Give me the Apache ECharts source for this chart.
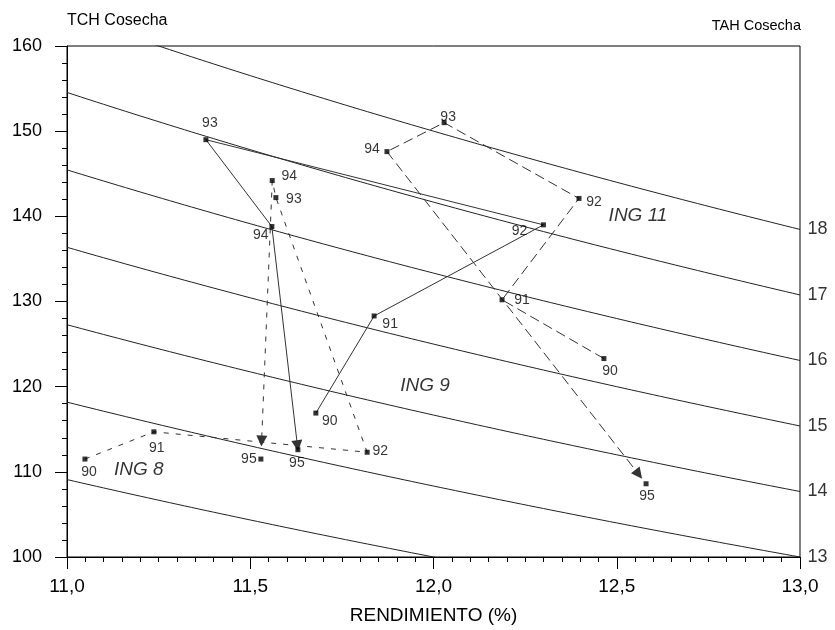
<!DOCTYPE html>
<html><head><meta charset="utf-8">
<script src="https://cdn.jsdelivr.net/npm/echarts@6/dist/echarts.min.js"></script>
<style>html,body{margin:0;padding:0;background:#fff}#c{width:835px;height:630px}</style>
</head><body><div id="c"></div>
<script>
// ---- data ----
const years = ['90', '91', '92', '93', '94', '95'];
const ing8Rend  = [11.049, 11.237, 11.819, 11.570, 11.560, 11.529];
const ing8Tch   = [111.5, 114.7, 112.3, 142.2, 144.2, 111.5];
const ing9Rend  = [11.679, 11.838, 12.300, 11.379, 11.559, 11.630];
const ing9Tch   = [116.9, 128.3, 139.0, 149.0, 138.8, 112.6];
const ing11Rend = [12.465, 12.187, 12.397, 12.029, 11.873, 12.580];
const ing11Tch  = [123.3, 130.2, 142.1, 151.0, 147.6, 108.6];
const tahLevels = [12, 13, 14, 15, 16, 17, 18];      // iso-lines TAH = TCH*R/100
const tahTickLabels = [13, 14, 15, 16, 17, 18];       // right-hand labels
const groupNames = ['ING 8', 'ING 9', 'ING 11'];
const xTickLabels = ['11,0', '11,5', '12,0', '12,5', '13,0'];

// ---- styling (kept apart from data) ----
const groupAnchors = [[11.196, 110.3], [11.977, 120.1], [12.558, 140.1]];
const off8  = [[4, 13], [3, 16], [13, -1], [18, 2], [17, -4], [-12, 0]];
const off9  = [[14, 8], [16, 8], [-24, 6], [4, -17], [-11, 9], [-1, 13]];
const off11 = [[6, 13], [20, 0], [15, 4], [4, -6], [-15, -2], [1, 12]];
const arrowGaps = [18, 4, 12];   // px the arrow stops before the final marker
const FONT = 'Liberation Sans, Arial, Helvetica, sans-serif';
const LINE = '#333';

function pts(xs, ys) { return xs.map((x, i) => [x, ys[i]]); }
const groups = [
  { p: pts(ing8Rend, ing8Tch), offs: off8, dash: [5, 7] },
  { p: pts(ing9Rend, ing9Tch), offs: off9, dash: 'solid' },
  { p: pts(ing11Rend, ing11Tch), offs: off11, dash: [10, 5] }
];

const series = [];
const xSamples = [];
for (let k = 0; k <= 100; k++) xSamples.push(11 + k * 0.02);
tahLevels.forEach(t => {
  series.push({
    type: 'line', silent: true, showSymbol: false, clip: true,
    data: xSamples.map(x => [x, t * 100 / x]),
    lineStyle: { color: '#222', width: 1 }, z: 1
  });
});
series.push({
  type: 'scatter', silent: true, symbolSize: 1, itemStyle: { color: 'rgba(0,0,0,0)' },
  data: tahTickLabels.map(t => ({ value: [13, t * 100 / 13], name: String(t) })),
  label: { show: true, position: 'right', distance: 7, formatter: p => p.name,
           fontSize: 18, fontFamily: FONT, color: '#000' }
});

groups.forEach((g, gi) => {
  const n = g.p.length;
  series.push({
    type: 'line', silent: true, showSymbol: false,
    data: g.p.slice(0, n - 1),
    lineStyle: { color: LINE, width: 1, type: g.dash }, z: 3
  });
  series.push({
    id: 'arrow' + gi,
    type: 'lines', coordinateSystem: 'cartesian2d', silent: true,
    symbol: ['none', 'triangle'], symbolSize: [9, 11],
    data: [{ coords: [g.p[n - 2], g.p[n - 1]] }],
    lineStyle: { color: LINE, width: 1, type: g.dash, opacity: 1, curveness: 0 }, z: 3
  });
  series.push({
    type: 'scatter', silent: true, symbol: 'rect', symbolSize: 5,
    itemStyle: { color: '#000' }, z: 5,
    data: g.p.map((v, i) => ({
      value: v, name: years[i],
      label: { show: true, position: 'inside', offset: g.offs[i], formatter: years[i],
               fontSize: 14, fontFamily: FONT, color: '#000' }
    }))
  });
});

series.push({
  type: 'scatter', silent: true, symbolSize: 1, itemStyle: { color: 'rgba(0,0,0,0)' },
  data: groupNames.map((g, i) => ({ value: groupAnchors[i], name: g })),
  label: { show: true, position: 'inside', formatter: p => p.name, fontSize: 19,
           fontStyle: 'italic', fontFamily: FONT, color: '#000' }, z: 6
});

const chart = echarts.init(document.getElementById('c'), null, { renderer: 'canvas' });
chart.setOption({
  animation: false,
  backgroundColor: '#fff',
  title: [
    { text: 'TCH Cosecha', left: 62, top: 8,
      textStyle: { fontSize: 16, fontWeight: 'normal', color: '#000', fontFamily: FONT } },
    { text: 'TAH Cosecha', right: 29, top: 13,
      textStyle: { fontSize: 14.5, fontWeight: 'normal', color: '#000', fontFamily: FONT } }
  ],
  grid: { left: 67, right: 35, top: 46, bottom: 73, show: true, borderColor: '#000', borderWidth: 1,
          backgroundColor: 'transparent' },
  xAxis: {
    type: 'value', min: 11, max: 13, interval: 0.5,
    name: 'RENDIMIENTO (%)', nameLocation: 'middle', nameGap: 49,
    nameTextStyle: { fontSize: 19, color: '#000', fontFamily: FONT },
    axisLine: { lineStyle: { color: '#000' } },
    axisTick: { show: true, length: 12, inside: false, lineStyle: { color: '#000' } },
    minorTick: { show: true, splitNumber: 10, length: 5, lineStyle: { color: '#000' } },
    splitLine: { show: false },
    axisLabel: { margin: 20, fontSize: 19, color: '#000', fontFamily: FONT,
                 formatter: v => xTickLabels[Math.round((v - 11) / 0.5)] }
  },
  yAxis: {
    type: 'value', min: 100, max: 160, interval: 10,
    axisLine: { show: true, lineStyle: { color: '#000' } },
    axisTick: { show: true, length: 12, lineStyle: { color: '#000' } },
    minorTick: { show: true, splitNumber: 5, length: 5, lineStyle: { color: '#000' } },
    splitLine: { show: false },
    axisLabel: { margin: 25, fontSize: 18, color: '#000', fontFamily: FONT }
  },
  series: series
});

// shorten the final (arrowed) segment so the arrow stops just before the marker
const upd = groups.map((g, gi) => {
  const n = g.p.length;
  const a = chart.convertToPixel({ gridIndex: 0 }, g.p[n - 2]);
  const b = chart.convertToPixel({ gridIndex: 0 }, g.p[n - 1]);
  const L = Math.hypot(b[0] - a[0], b[1] - a[1]);
  const t = (L - arrowGaps[gi]) / L;
  const c = chart.convertFromPixel({ gridIndex: 0 }, [a[0] + (b[0] - a[0]) * t, a[1] + (b[1] - a[1]) * t]);
  return { id: 'arrow' + gi, data: [{ coords: [g.p[n - 2], c] }] };
});
chart.setOption({ series: upd });
</script>
</body></html>
